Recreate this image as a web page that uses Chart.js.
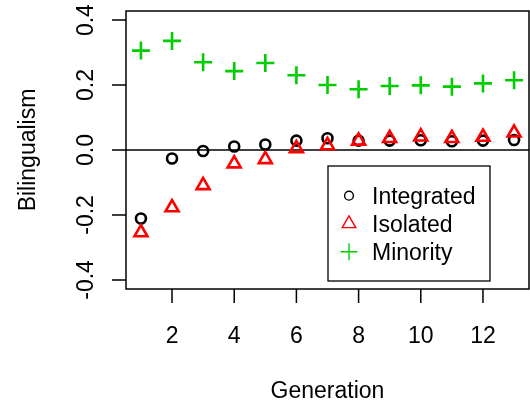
<!DOCTYPE html>
<html><head><meta charset="utf-8">
<script src="https://cdn.jsdelivr.net/npm/chart.js@4.4.0/dist/chart.umd.min.js"></script>
<style>html,body{margin:0;padding:0;background:#fff}#wrap{width:530px;height:405px}</style>
</head><body><div id="wrap"><canvas id="c" width="530" height="405"></canvas></div>
<script>
const generations = [1, 2, 3, 4, 5, 6, 7, 8, 9, 10, 11, 12, 13];
const integrated = [-0.211, -0.026, -0.003, 0.011, 0.017, 0.029, 0.036, 0.029, 0.029, 0.030, 0.027, 0.029, 0.031];
const isolated   = [-0.254, -0.177, -0.109, -0.042, -0.029, 0.005, 0.014, 0.028, 0.036, 0.041, 0.036, 0.040, 0.053];
const minority   = [0.306, 0.336, 0.270, 0.243, 0.268, 0.230, 0.200, 0.187, 0.197, 0.199, 0.195, 0.205, 0.215];
const seriesNames = ['Integrated', 'Isolated', 'Minority'];
const xTicks = [2, 4, 6, 8, 10, 12];
const yTicks = [-0.4, -0.2, 0, 0.2, 0.4];
const yTickLabels = ['-0.4', '-0.2', '0.0', '0.2', '0.4'];
const xTitle = 'Generation';
const yTitle = 'Bilingualism';

const FONT = '23px "Liberation Sans", Arial, Helvetica, sans-serif';
const styles = [
  {pointStyle: 'circle', radius: 5, color: '#000000', order: 3},
  {pointStyle: 'triangle', radius: 7.5, color: '#FF0000', order: 2},
  {pointStyle: 'cross', radius: 9, color: '#00CD00', order: 1}
];
const seriesValues = [integrated, isolated, minority];

function symbol(ctx, style, r, lw, cx, cy, color) {
  ctx.save();
  ctx.strokeStyle = color; ctx.lineWidth = lw;
  ctx.beginPath();
  if (style === 'circle') {
    ctx.arc(cx, cy, r, 0, Math.PI * 2);
  } else if (style === 'triangle') {
    ctx.moveTo(cx, cy - r);
    ctx.lineTo(cx + Math.sin(2 * Math.PI / 3) * r, cy + 0.5 * r);
    ctx.lineTo(cx - Math.sin(2 * Math.PI / 3) * r, cy + 0.5 * r);
    ctx.closePath();
  } else {
    ctx.moveTo(cx - r, cy); ctx.lineTo(cx + r, cy);
    ctx.moveTo(cx, cy - r); ctx.lineTo(cx, cy + r);
  }
  ctx.stroke();
  ctx.restore();
}

const axesPlugin = {
  id: 'rAxes',
  beforeDatasetsDraw(chart) {
    const {ctx, chartArea: a, scales: {y}} = chart;
    const py = y.getPixelForValue(0);
    ctx.save();
    ctx.strokeStyle = '#000'; ctx.lineWidth = 1.3;
    ctx.beginPath(); ctx.moveTo(a.left, py); ctx.lineTo(a.right, py); ctx.stroke();
    ctx.restore();
  },
  afterDraw(chart) {
    const {ctx, chartArea: a, scales: {x, y}} = chart;
    ctx.save();
    ctx.strokeStyle = '#000'; ctx.lineWidth = 1.5;
    ctx.strokeRect(a.left, a.top, a.right - a.left, a.bottom - a.top);
    ctx.beginPath();
    xTicks.forEach(v => { const px = x.getPixelForValue(v); ctx.moveTo(px, a.bottom); ctx.lineTo(px, a.bottom + 14); });
    yTicks.forEach(v => { const py = y.getPixelForValue(v); ctx.moveTo(a.left, py); ctx.lineTo(a.left - 14, py); });
    ctx.stroke();

    ctx.fillStyle = '#000'; ctx.font = FONT; ctx.textAlign = 'center'; ctx.textBaseline = 'alphabetic';
    xTicks.forEach(v => ctx.fillText(String(v), x.getPixelForValue(v), a.bottom + 54));
    ctx.fillText(xTitle, (a.left + a.right) / 2, 398);
    yTicks.forEach((v, i) => {
      const py = y.getPixelForValue(v);
      ctx.save(); ctx.translate(a.left - 33, py); ctx.rotate(-Math.PI / 2);
      ctx.fillText(yTickLabels[i], 0, 0); ctx.restore();
    });
    ctx.save(); ctx.translate(35, (a.top + a.bottom) / 2); ctx.rotate(-Math.PI / 2);
    ctx.fillText(yTitle, 0, 0); ctx.restore();

    // legend
    const lx = 328, ly = 166, lw = 162, lh = 115;
    ctx.lineWidth = 1.3; ctx.strokeStyle = '#000';
    ctx.strokeRect(lx, ly, lw, lh);
    ctx.textAlign = 'left';
    seriesNames.forEach((name, i) => {
      const base = 204 + i * 28;
      const cy = base - 8.3;
      const s = styles[i];
      symbol(ctx, s.pointStyle, s.pointStyle === 'circle' ? 4.4 : (s.pointStyle === 'triangle' ? 7.8 : 8.5), 1.4, 349, cy, s.color);
      ctx.fillStyle = '#000';
      ctx.fillText(name, 372, base);
    });
    ctx.restore();
  }
};

const datasets = seriesNames.map((name, i) => ({
  label: name,
  data: generations.map((g, j) => ({x: g, y: seriesValues[i][j]})),
  showLine: false,
  pointStyle: styles[i].pointStyle,
  pointRadius: styles[i].radius,
  pointHoverRadius: styles[i].radius,
  pointBorderWidth: 2.6,
  pointBorderColor: styles[i].color,
  pointBackgroundColor: 'rgba(0,0,0,0)',
  borderColor: styles[i].color,
  backgroundColor: 'rgba(0,0,0,0)',
  order: styles[i].order
}));

new Chart(document.getElementById('c'), {
  type: 'scatter',
  data: {datasets},
  options: {
    responsive: false,
    animation: false,
    events: [],
    layout: {autoPadding: false, padding: {left: 126, right: 1, top: 11, bottom: 116}},
    plugins: {legend: {display: false}, tooltip: {enabled: false}},
    scales: {
      x: {type: 'linear', min: 0.52, max: 13.48, display: false},
      y: {type: 'linear', min: -0.428, max: 0.428, display: false}
    }
  },
  plugins: [axesPlugin]
});
</script>
</body></html>
